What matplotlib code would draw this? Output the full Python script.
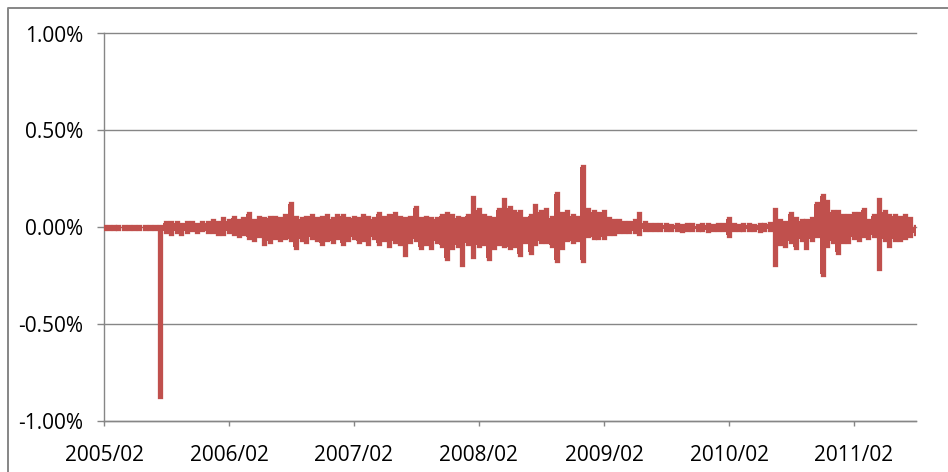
import numpy as np
import pandas as pd
import matplotlib
matplotlib.use("Agg")
from matplotlib import pyplot as plt
from matplotlib import dates as mdates
from matplotlib.lines import Line2D
from matplotlib.ticker import FuncFormatter


# half-month buckets from 2005/02/01 to 2011/08/01: highest and lowest daily value in each (%)
start_date = "2005-02-01"
end_date = "2011-08-01"

bucket_high = [
    0.002, 0.002, 0.002, 0.002, 0.002, 0.002, 0.002, 0.002, 0.002, 0.002, 0.002, 0.0,
    0.02, 0.02, 0.02, 0.01, 0.02, 0.02, 0.01, 0.02, 0.02, 0.03, 0.02, 0.04,
    0.03, 0.05, 0.03, 0.04, 0.07, 0.03, 0.05, 0.04, 0.05, 0.05, 0.04, 0.06,
    0.12, 0.05, 0.04, 0.05, 0.06, 0.04, 0.05, 0.06, 0.04, 0.06, 0.06, 0.04,
    0.05, 0.04, 0.06, 0.05, 0.04, 0.07, 0.05, 0.06, 0.07, 0.05, 0.04, 0.05,
    0.10, 0.04, 0.05, 0.04, 0.04, 0.06, 0.07, 0.06, 0.05, 0.04, 0.06, 0.15,
    0.09, 0.06, 0.05, 0.04, 0.09, 0.14, 0.10, 0.08, 0.08, 0.04, 0.06, 0.11,
    0.08, 0.09, 0.05, 0.17, 0.07, 0.08, 0.06, 0.05, 0.31, 0.09, 0.08, 0.07,
    0.08, 0.04, 0.03, 0.03, 0.02, 0.02, 0.03, 0.07, 0.02, 0.01, 0.01, 0.01,
    0.01, 0.008, 0.01, 0.008, 0.01, 0.01, 0.008, 0.01, 0.01, 0.008, 0.01, 0.01,
    0.04, 0.01, 0.008, 0.01, 0.01, 0.008, 0.01, 0.01, 0.015, 0.09, 0.03, 0.02,
    0.07, 0.04, 0.03, 0.03, 0.04, 0.12, 0.16, 0.13, 0.08, 0.08, 0.06, 0.06,
    0.07, 0.07, 0.09, 0.03, 0.06, 0.14, 0.08, 0.06, 0.06, 0.05, 0.06, 0.04,
    0.0,
]

bucket_low = [
    -0.002, -0.002, -0.002, -0.002, -0.002, -0.002, -0.002, -0.002, -0.002, -0.002, -0.002, -0.87,
    -0.02, -0.03, -0.02, -0.03, -0.02, -0.01, -0.02, -0.01, -0.02, -0.02, -0.03, -0.03,
    -0.02, -0.03, -0.04, -0.03, -0.05, -0.06, -0.04, -0.08, -0.07, -0.05, -0.06, -0.05,
    -0.06, -0.10, -0.06, -0.07, -0.05, -0.06, -0.08, -0.06, -0.07, -0.05, -0.08, -0.06,
    -0.05, -0.07, -0.06, -0.08, -0.05, -0.08, -0.06, -0.09, -0.07, -0.08, -0.14, -0.07,
    -0.06, -0.10, -0.08, -0.10, -0.07, -0.09, -0.16, -0.10, -0.09, -0.19, -0.08, -0.15,
    -0.09, -0.08, -0.16, -0.10, -0.08, -0.09, -0.10, -0.09, -0.14, -0.07, -0.13, -0.08,
    -0.07, -0.07, -0.09, -0.17, -0.10, -0.06, -0.07, -0.06, -0.17, -0.04, -0.05, -0.05,
    -0.05, -0.03, -0.03, -0.02, -0.02, -0.02, -0.02, -0.03, -0.01, -0.01, -0.01, -0.01,
    -0.01, -0.008, -0.01, -0.012, -0.01, -0.008, -0.01, -0.01, -0.012, -0.01, -0.008, -0.01,
    -0.04, -0.01, -0.01, -0.008, -0.01, -0.01, -0.012, -0.01, -0.01, -0.19, -0.08, -0.09,
    -0.07, -0.10, -0.06, -0.10, -0.06, -0.04, -0.24, -0.09, -0.07, -0.13, -0.07, -0.07,
    -0.05, -0.06, -0.04, -0.05, -0.04, -0.21, -0.06, -0.09, -0.06, -0.06, -0.05, -0.04,
    -0.03,
]

y_ticks = [-1.0, -0.5, 0.0, 0.5, 1.0]
x_ticks = ["2005-02-01", "2006-02-01", "2007-02-01", "2008-02-01",
           "2009-02-01", "2010-02-01", "2011-02-01"]

line_color = "#C0504D"
grid_color = "#868686"

bucket_dates = pd.date_range(start_date, periods=len(bucket_high), freq="SMS")


plt.rcParams["font.family"] = ["Open Sans", "DejaVu Sans"]

fig = plt.figure(figsize=(9.48, 4.72), dpi=100)
ax = fig.add_axes([104 / 948, 1 - 421 / 472, 812 / 948, (421 - 33.5) / 472])

# the daily series is so dense it reads as a solid band between the bucket extremes,
# with the thick line sticking out a little past each extreme
ax.fill_between(bucket_dates, bucket_low, bucket_high, step="mid",
                color=line_color, linewidth=0, zorder=3)
ax.vlines(bucket_dates, bucket_low, bucket_high, color=line_color,
          linewidth=3.8, capstyle="projecting", zorder=3)

ax.set_ylim(-1.0, 1.0)
ax.set_yticks(y_ticks)
ax.yaxis.set_major_formatter(FuncFormatter(lambda v, p: f"{v:.2f}%"))
ax.grid(axis="y", color=grid_color, linewidth=1.0)
ax.set_axisbelow(True)
for gl in ax.get_ygridlines():
    gl.set_clip_on(False)

ax.set_xlim(pd.Timestamp(start_date), pd.Timestamp(end_date))
ax.set_xticks([pd.Timestamp(d) for d in x_ticks])
ax.xaxis.set_major_formatter(mdates.DateFormatter("%Y/%m"))

for side in ["top", "right"]:
    ax.spines[side].set_visible(False)
for side in ["left", "bottom"]:
    ax.spines[side].set_color(grid_color)
    ax.spines[side].set_linewidth(1.0)

ax.tick_params(axis="y", direction="out", length=5, width=1.0, color=grid_color,
               pad=10, labelsize=15, labelcolor="black")
ax.tick_params(axis="x", direction="out", length=3.6, width=1.0, color=grid_color,
               pad=13.5, labelsize=15, labelcolor="black")

# chart area frame (only top and left edges are in view)
fig.add_artist(Line2D([8 / 948, 8 / 948, 1.0], [0.0, 1 - 8 / 472, 1 - 8 / 472],
                      transform=fig.transFigure, color=grid_color, linewidth=1.4))

fig.savefig("out.png", dpi=100)
